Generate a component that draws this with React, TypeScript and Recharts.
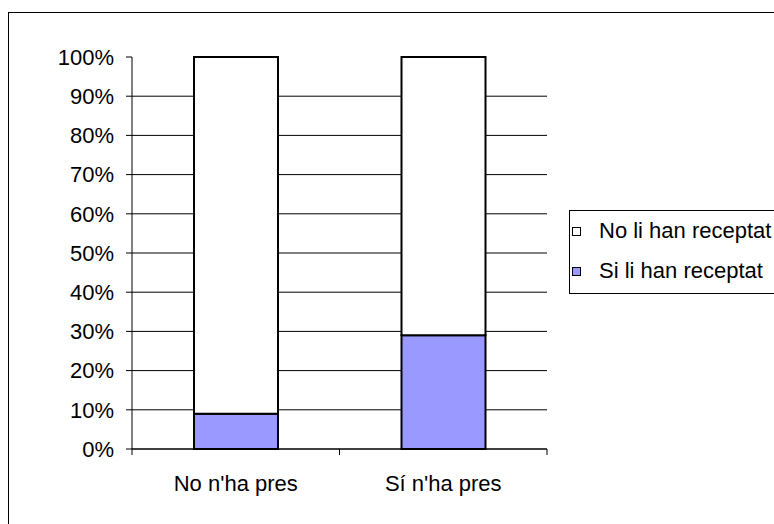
import React from 'react';
import { BarChart, Bar, XAxis, YAxis, CartesianGrid, Legend } from 'recharts';

const categories = ["No n'ha pres", "Sí n'ha pres"];
const siValues = [9, 29];
const noValues = [91, 71];
const yTicks = [0, 10, 20, 30, 40, 50, 60, 70, 80, 90, 100];
const gridTicks = [0, 10, 20, 30, 40, 50, 60, 70, 80, 90];
const seriesNo = 'No li han receptat';
const seriesSi = 'Si li han receptat';
const colorSi = '#9999FF';
const colorNo = '#FFFFFF';

const data = categories.map((c, i) => ({ cat: c, si: siValues[i], no: noValues[i] }));

const FONT = '"Liberation Sans", Arial, sans-serif';

const XTick = (props: any) => {
  const { x, y, payload, width, visibleTicksCount } = props;
  const band = width && visibleTicksCount ? width / visibleTicksCount : 207.5;
  const axisY = y - 26;
  return (
    <g>
      <line x1={x - band / 2} x2={x - band / 2} y1={axisY} y2={axisY + 6} stroke="#000" />
      <line x1={x + band / 2} x2={x + band / 2} y1={axisY} y2={axisY + 6} stroke="#000" />
      <text x={x} y={y} dy="0.71em" textAnchor="middle" fill="#000" fontSize={22} fontFamily={FONT}>
        {payload.value}
      </text>
    </g>
  );
};

const LegendBox = () => {
  const items = [
    { name: seriesNo, color: colorNo },
    { name: seriesSi, color: colorSi },
  ];
  return (
    <div
      style={{
        boxSizing: 'border-box',
        width: 212,
        height: 84,
        border: '1px solid #000',
        background: '#fff',
        position: 'relative',
        fontFamily: FONT,
        fontSize: 22,
        color: '#000',
      }}
    >
      {items.map((it, i) => (
        <div
          key={it.name}
          style={{
            position: 'absolute',
            left: 2,
            top: 7 + i * 40,
            height: 26,
            display: 'flex',
            alignItems: 'center',
            whiteSpace: 'nowrap',
          }}
        >
          <span
            style={{
              display: 'inline-block',
              boxSizing: 'border-box',
              width: 9,
              height: 9,
              border: '1px solid #000',
              background: it.color,
              marginRight: 18,
            }}
          />
          <span style={{ lineHeight: '26px' }}>{it.name}</span>
        </div>
      ))}
    </div>
  );
};

export default function App() {
  return (
    <div
      style={{
        position: 'absolute',
        left: 0,
        top: 0,
        width: 774,
        height: 524,
        overflow: 'hidden',
        background: '#fff',
      }}
    >
      <div
        style={{
          position: 'absolute',
          left: 8,
          top: 12,
          width: 820,
          height: 600,
          border: '1px solid #000',
          boxSizing: 'border-box',
        }}
      />
      <div style={{ position: 'absolute', left: 0, top: 0 }}>
        <BarChart
          width={774}
          height={524}
          data={data}
          margin={{ top: 57, right: 227, bottom: 45, left: 0 }}
          style={{ fontFamily: FONT }}
        >
          <CartesianGrid vertical={false} stroke="#000" strokeWidth={1} syncWithTicks={false} horizontalValues={gridTicks} />
          <XAxis xAxisId="top" orientation="top" dataKey="cat" height={0} tick={false} tickLine={false} axisLine={{ stroke: '#999' }} />
          <YAxis yAxisId="right" orientation="right" width={0} type="number" domain={[0, 100]} tick={false} tickLine={false} axisLine={{ stroke: '#999' }} />
          <Bar dataKey="si" name={seriesSi} stackId="a" fill={colorSi} stroke="#000" strokeWidth={2} barSize={84} isAnimationActive={false} />
          <Bar dataKey="no" name={seriesNo} stackId="a" fill={colorNo} stroke="#000" strokeWidth={2} barSize={84} isAnimationActive={false} />
          <XAxis
            dataKey="cat"
            height={30}
            tickLine={false}
            tickSize={6}
            tickMargin={20}
            axisLine={{ stroke: '#000' }}
            tick={<XTick />}
            interval={0}
          />
          <YAxis
            width={132}
            type="number"
            domain={[0, 100]}
            ticks={yTicks}
            interval={0}
            tickFormatter={(v: number) => `${v}%`}
            tickSize={6}
            tickMargin={12}
            tickLine={{ stroke: '#000' }}
            axisLine={{ stroke: '#000' }}
            tick={{ fill: '#000', fontSize: 22, fontFamily: FONT }}
          />
          <Legend
            layout="vertical"
            align="center"
            verticalAlign="middle"
            wrapperStyle={{ left: 569, top: 210, width: 212, height: 84 }}
            content={() => <LegendBox />}
          />
        </BarChart>
      </div>
    </div>
  );
}
